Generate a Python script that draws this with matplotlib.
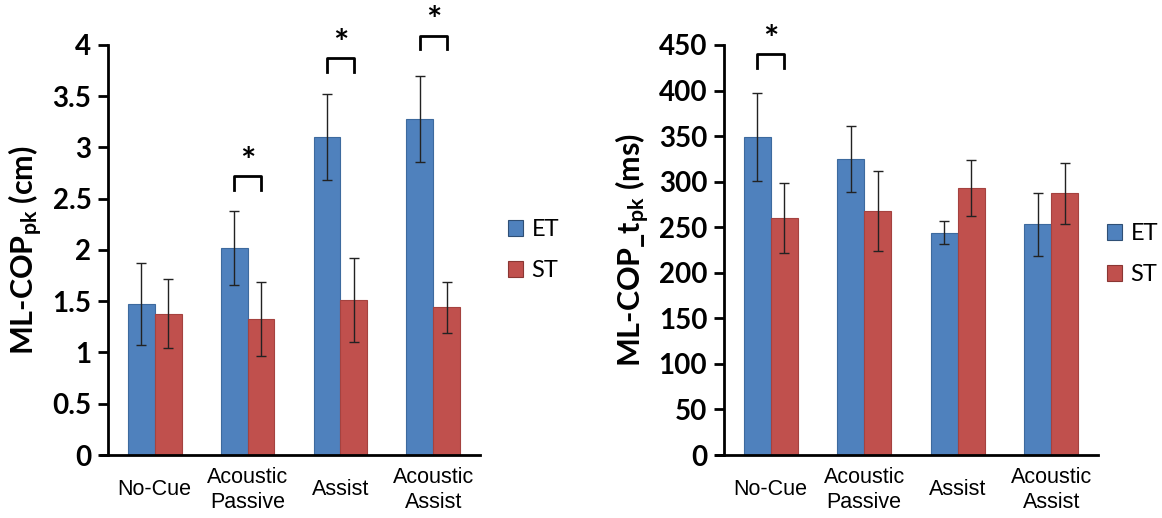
import numpy as np
import matplotlib.pyplot as plt
from matplotlib.patches import Patch

plt.rcParams['font.family'] = ['Lato', 'DejaVu Sans']
plt.rcParams['mathtext.fontset'] = 'custom'
plt.rcParams['mathtext.rm'] = 'Lato'
plt.rcParams['mathtext.bf'] = 'Lato:bold'
plt.rcParams['mathtext.it'] = 'Lato:italic'

categories = ["No-Cue", "Acoustic\nPassive", "Assist", "Acoustic\nAssist"]

# left panel: ML-COP_pk (cm)
cop_et = [1.47, 2.02, 3.10, 3.28]
cop_st = [1.38, 1.33, 1.51, 1.44]
cop_et_err = [0.40, 0.36, 0.42, 0.42]
cop_st_err = [0.34, 0.36, 0.41, 0.25]
cop_sig = [1, 2, 3]           # categories with * bracket
cop_sig_y = [2.59, 3.74, 3.96]

# right panel: ML-COP_t_pk (ms)
t_et = [349, 325, 244, 253]
t_st = [260, 268, 293, 287]
t_et_err = [48, 36, 12.5, 34.5]
t_st_err = [38.5, 44, 31, 34]
t_sig = [0]
t_sig_y = [425]

blue = '#4F81BD'
red = '#C0504D'

fig = plt.figure(figsize=(11.62, 5.18), dpi=100)
ax1 = fig.add_axes([0.093, 0.1216, 0.320, 0.7916])
ax2 = fig.add_axes([0.623, 0.1216, 0.322, 0.7916])

x = np.arange(len(categories))
w = 0.29


def draw(ax, et, st, et_err, st_err, sig, sig_y, ymax, step, ylabel, leg_x, leg_y):
    ax.bar(x - w / 2, et, w, color=blue, edgecolor='#3d6a9e', linewidth=0.8)
    ax.bar(x + w / 2, st, w, color=red, edgecolor='#a5423f', linewidth=0.8)
    ax.errorbar(x - w / 2, et, yerr=et_err, fmt='none', ecolor='#222222',
                elinewidth=1, capsize=3.5, capthick=1)
    ax.errorbar(x + w / 2, st, yerr=st_err, fmt='none', ecolor='#222222',
                elinewidth=1, capsize=3.5, capthick=1)

    # significance brackets
    h = ymax * 0.033
    for i, yb in zip(sig, sig_y):
        ax.plot([i - w / 2, i - w / 2, i + w / 2, i + w / 2],
                [yb, yb + h, yb + h, yb], color='black', lw=2,
                solid_joinstyle='round', clip_on=False)
        ax.text(i, yb + h + ymax * 0.034, '*', ha='center', va='center',
                fontsize=26, fontweight='bold', clip_on=False)

    ticks = np.arange(0, ymax + step / 2, step)
    ax.set_ylim(0, ymax)
    ax.set_yticks(ticks)
    ax.set_yticklabels([('%g' % v) for v in ticks])
    ax.set_xticks(x)
    ax.set_xticklabels(categories, fontsize=15.5, family=['Liberation Sans'],
                       linespacing=1.25, va='center')
    ax.tick_params(axis='x', length=0, pad=25)
    ax.tick_params(axis='y', direction='out', length=7, width=2, labelsize=20,
                   pad=5)
    for lab in ax.get_yticklabels():
        lab.set_fontweight('bold')
    ax.spines['top'].set_visible(False)
    ax.spines['right'].set_visible(False)
    ax.spines['left'].set_linewidth(2)
    ax.spines['bottom'].set_linewidth(2)
    ax.spines['bottom'].set_bounds(-0.58, 3.5)
    ax.set_xlim(-0.5, 3.5)
    ax.set_ylabel(ylabel, fontsize=22, fontweight='bold', labelpad=5)

    handles = [Patch(facecolor=blue, edgecolor='#2f4f75', linewidth=0.8),
               Patch(facecolor=red, edgecolor='#8a3633', linewidth=0.8)]
    ax.legend(handles, ['ET', 'ST'], loc='center left',
              bbox_to_anchor=(leg_x, leg_y), frameon=False, fontsize=17,
              handlelength=0.65, handleheight=0.65, handletextpad=0.35,
              labelspacing=0.85, borderpad=0, borderaxespad=0)


draw(ax1, cop_et, cop_st, cop_et_err, cop_st_err, cop_sig, cop_sig_y,
     4, 0.5, r'ML-COP$_{\mathbf{pk}}$ (cm)', 1.075, 0.50)
draw(ax2, t_et, t_st, t_et_err, t_st_err, t_sig, t_sig_y,
     450, 50, r'ML-COP_t$_{\mathbf{pk}}$ (ms)', 1.024, 0.49)

fig.savefig('out.png', dpi=100)
